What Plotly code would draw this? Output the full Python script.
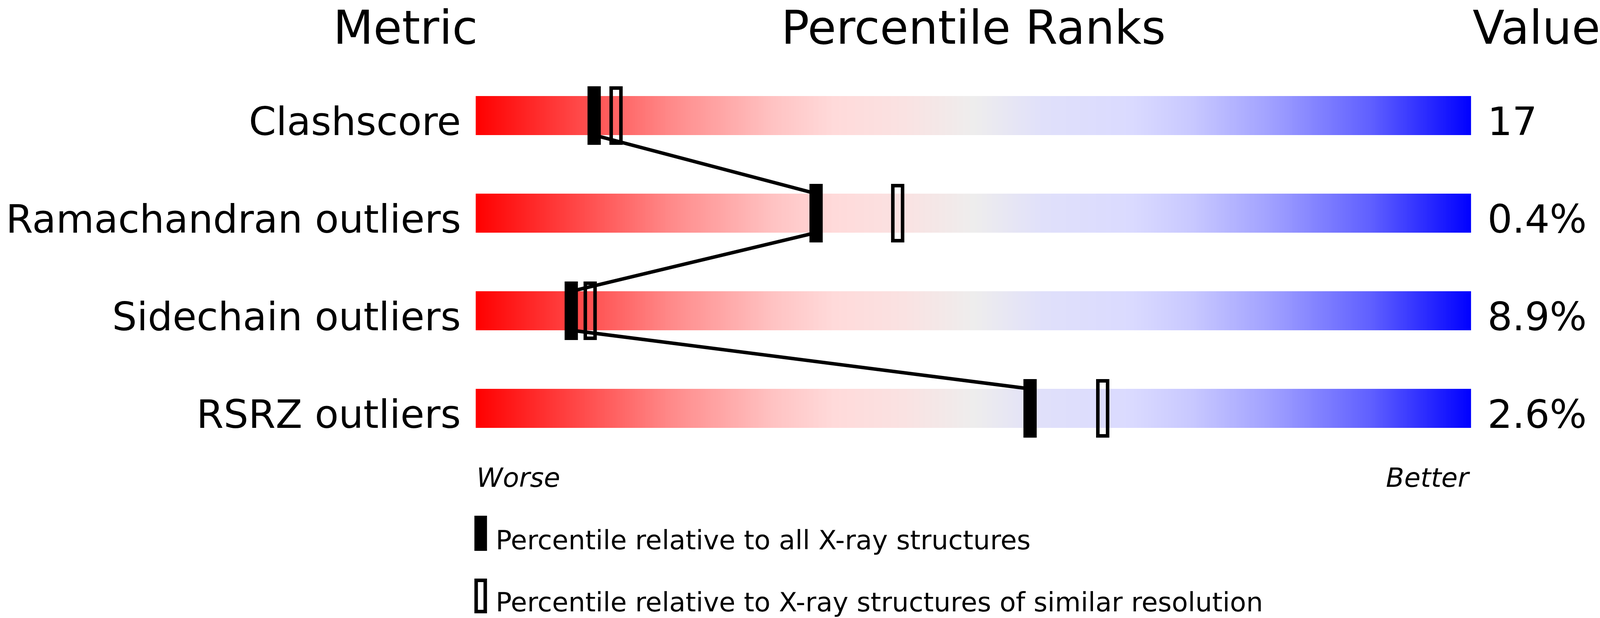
import numpy as np
import plotly.graph_objects as go

# data
metrics = ["Clashscore", "Ramachandran outliers", "Sidechain outliers", "RSRZ outliers"]
values = ["17", "0.4%", "8.9%", "2.6%"]
pct_all = [11.9, 34.2, 9.6, 55.7]      # percentile vs all X-ray structures
pct_sim = [14.1, 42.4, 11.5, 63.0]     # percentile vs similar resolution
legend_labels = ["Percentile relative to all X-ray structures",
                 "Percentile relative to X-ray structures of similar resolution"]

FONT = "DejaVu Sans"
# the browser page is only 4096 px wide, so the 4823 px layout is squeezed sideways
W, H = 4096, 1583
k = W / 4823
# bar runs from 0 to 100 in x; rows are 250 px apart, first row centre at 296 px
x_range = [-1434 / 30, (4823 - 1434) / 30]
y_range = [(H - 296) / 250, -296 / 250]
px = 30 * k  # pixels per percentile

grad = [[0.0, "rgb(255,0,0)"], [0.1, "rgb(255,70,70)"], [0.2, "rgb(255,140,140)"],
        [0.3, "rgb(255,195,195)"], [0.36, "rgb(255,218,218)"], [0.43, "rgb(250,226,226)"],
        [0.5, "rgb(238,237,237)"], [0.57, "rgb(224,224,250)"], [0.66, "rgb(218,218,255)"],
        [0.72, "rgb(200,200,255)"], [0.8, "rgb(160,160,255)"], [0.9, "rgb(95,95,255)"],
        [1.0, "rgb(0,0,255)"]]

def mid(baseline, size):
    # y (in row units) of the middle of a text box whose baseline sits at pixel `baseline`
    return (baseline - 0.346 * size - 296) / 250

fig = go.Figure()

edges = np.linspace(0, 100, 601)
mids = (edges[:-1] + edges[1:]) / 2
for i, m in enumerate(metrics):
    fig.add_trace(go.Heatmap(x=edges, y=[i - 0.2, i + 0.2], z=[mids],
                             colorscale=grad, zmin=0, zmax=100, showscale=False,
                             hoverinfo="skip"))

# line joining the "all structures" markers, bottom of one bar to top of the next
lx, ly = [], []
for i, p in enumerate(pct_all):
    if i > 0:
        lx.append(p); ly.append(i - 0.2)
    if i < len(pct_all) - 1:
        lx.append(p); ly.append(i + 0.2)
fig.add_trace(go.Scatter(x=lx, y=ly, mode="lines", line=dict(color="black", width=9),
                         hoverinfo="skip", showlegend=False))

rows = list(range(len(metrics)))
lw = 9
fig.add_trace(go.Bar(x=pct_all, y=[0.6] * len(rows), base=[r - 0.3 for r in rows],
                     width=40 / 30, marker=dict(color="black", line=dict(width=0)),
                     showlegend=False, hoverinfo="skip"))
ow = (40 * k - lw) / px
oh = (150 - lw) / 250
fig.add_trace(go.Bar(x=pct_sim, y=[oh] * len(rows), base=[r - oh / 2 for r in rows],
                     width=ow, marker=dict(color="rgba(0,0,0,0)", line=dict(color="black", width=lw)),
                     showlegend=False, hoverinfo="skip"))

fs_head, fs_row, fs_small = 119, 100, 68
ann = []
hy = mid(112, fs_head)
ann.append(dict(x=0.27, y=hy, text="Metric", xanchor="right", font=dict(size=fs_head)))
ann.append(dict(x=50, y=hy, text="Percentile Ranks", xanchor="center", font=dict(size=fs_head)))
ann.append(dict(x=100.1, y=hy, text="Value", xanchor="left", font=dict(size=fs_head)))
for i, (m, v) in enumerate(zip(metrics, values)):
    ann.append(dict(x=-1.4, y=i + mid(346, fs_row) - mid(296, 0), text=m, xanchor="right",
                    font=dict(size=fs_row)))
    ann.append(dict(x=101.6, y=i + mid(346, fs_row) - mid(296, 0), text=v, xanchor="left",
                    font=dict(size=fs_row)))
ann.append(dict(x=0, y=mid(1247, fs_small), text="<i>Worse</i>", xanchor="left", font=dict(size=fs_small)))
ann.append(dict(x=100, y=mid(1247, fs_small), text="<i>Better</i>", xanchor="right", font=dict(size=fs_small)))
ann.append(dict(x=1.93, y=mid(1407, fs_small), text=legend_labels[0], xanchor="left", font=dict(size=fs_small)))
ann.append(dict(x=1.93, y=mid(1566, fs_small), text=legend_labels[1], xanchor="left", font=dict(size=fs_small)))
for a in ann:
    a.update(xref="x", yref="y", showarrow=False, yanchor="middle")
    a["font"].update(family=FONT, color="black")

shapes = [
    dict(type="rect", xref="x", yref="y", x0=-0.133, x1=1.133, y0=4.1, y1=4.46,
         fillcolor="black", line=dict(width=0)),
    dict(type="rect", xref="x", yref="y", x0=-0.133 + lw / 2 / px, x1=1.133 - lw / 2 / px,
         y0=4.744 + lw / 2 / 250, y1=5.1 - lw / 2 / 250,
         fillcolor="rgba(0,0,0,0)", line=dict(color="black", width=lw)),
]

fig.update_layout(width=W, height=H, margin=dict(l=0, r=0, t=0, b=0),
                  paper_bgcolor="white", plot_bgcolor="white", barmode="overlay",
                  showlegend=False, annotations=ann, shapes=shapes,
                  xaxis=dict(range=x_range, visible=False, fixedrange=True),
                  yaxis=dict(range=y_range, visible=False, fixedrange=True))

fig.write_html("out.html", config={"displayModeBar": False},
               post_script="document.body.style.margin = '0';")
